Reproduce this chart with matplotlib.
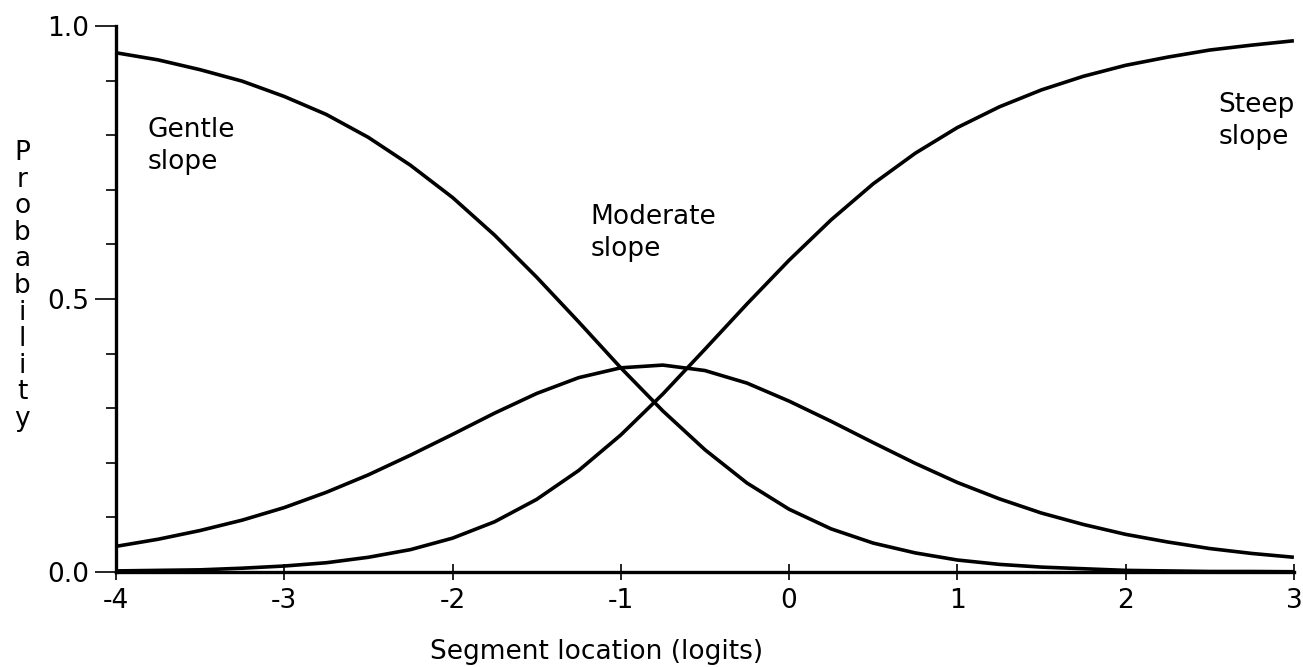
import matplotlib
matplotlib.use("Agg")
import matplotlib.pyplot as plt
from matplotlib.ticker import MultipleLocator

# Datos (paso de 0.25 logits)
x = [-4.0, -3.75, -3.5, -3.25, -3.0, -2.75, -2.5, -2.25, -2.0, -1.75, -1.5,
     -1.25, -1.0, -0.75, -0.5, -0.25, 0.0, 0.25, 0.5, 0.75, 1.0, 1.25, 1.5,
     1.75, 2.0, 2.25, 2.5, 2.75, 3.0]

gentle = [0.951, 0.938, 0.920, 0.899, 0.871, 0.838, 0.796, 0.745, 0.686,
          0.617, 0.540, 0.458, 0.374, 0.295, 0.224, 0.163, 0.115, 0.079,
          0.053, 0.035, 0.022, 0.014, 0.009, 0.006, 0.003, 0.002, 0.001,
          0.001, 0.0005]

moderate = [0.047, 0.060, 0.076, 0.095, 0.118, 0.146, 0.178, 0.214, 0.252,
            0.291, 0.327, 0.356, 0.374, 0.379, 0.369, 0.346, 0.313, 0.276,
            0.237, 0.199, 0.164, 0.134, 0.108, 0.087, 0.069, 0.055, 0.043,
            0.034, 0.027]

steep = [0.002, 0.003, 0.004, 0.007, 0.011, 0.017, 0.027, 0.041, 0.062,
         0.092, 0.133, 0.186, 0.251, 0.326, 0.408, 0.491, 0.571, 0.645,
         0.711, 0.767, 0.814, 0.852, 0.883, 0.908, 0.928, 0.943, 0.956,
         0.965, 0.973]

x_ticks = [-4, -3, -2, -1, 0, 1, 2, 3]
y_ticks = [0.0, 0.5, 1.0]
y_tick_labels = ["0.0", "0.5", "1.0"]

plt.rcParams['font.family'] = ['DejaVu Sans']
plt.rcParams['font.size'] = 19

fig = plt.figure(figsize=(13.03, 6.67), dpi=100)
ax = fig.add_axes([0.089, 0.1424, 0.904, 0.8186])

lw = 2.6
for serie in (gentle, moderate, steep):
    ax.plot(x, serie, color="black", lw=lw, clip_on=False,
            solid_capstyle="butt", solid_joinstyle="round")

ax.set_xlim(-4, 3)
ax.set_ylim(0, 1)

for lado in ("top", "right"):
    ax.spines[lado].set_visible(False)
for lado in ("left", "bottom"):
    ax.spines[lado].set_linewidth(2.4)

ax.set_xticks(x_ticks)
ax.set_xticklabels([str(v) for v in x_ticks])
ax.set_yticks(y_ticks)
ax.set_yticklabels(y_tick_labels)
ax.yaxis.set_minor_locator(MultipleLocator(0.1))

ax.tick_params(axis="x", direction="inout", length=11, width=1.2, pad=6)
ax.tick_params(axis="y", which="major", direction="out", length=15,
               width=1.2, pad=4)
ax.tick_params(axis="y", which="minor", direction="out", length=7,
               width=1.2)

# Etiquetas de las curvas
ax.text(-3.81, 0.834, "Gentle\nslope", va="top", ha="left", linespacing=1.3)
ax.text(-1.18, 0.674, "Moderate\nslope", va="top", ha="left", linespacing=1.3)
ax.text(2.55, 0.880, "Steep\nslope", va="top", ha="left", linespacing=1.3)

# Titulos de ejes
fig.text(0.458, 0.022, "Segment location (logits)", ha="center", va="center")
fig.text(0.017, 0.79, "\n".join("Probability"), ha="center", va="top",
         linespacing=1.03)

fig.savefig("out.png", dpi=100, facecolor="white")
